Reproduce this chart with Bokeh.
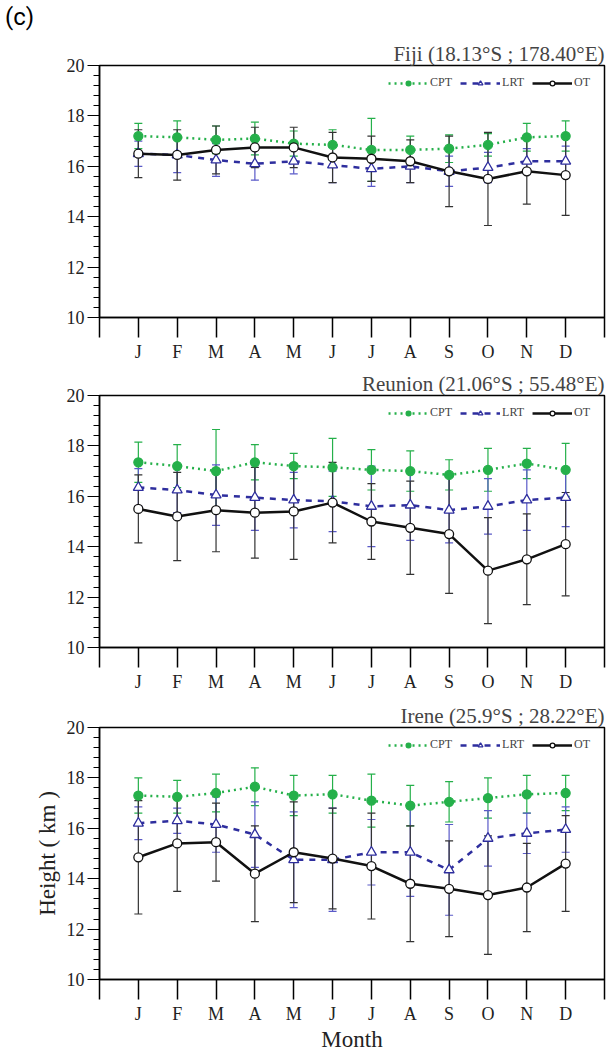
from bokeh.plotting import figure
from bokeh.models import ColumnDataSource, Whisker, TeeHead, Legend, LegendItem, Div, FixedTicker, Range1d
from bokeh.layouts import column
from bokeh.embed import file_html
from bokeh.resources import INLINE

MONTHS = ["J", "F", "M", "A", "M", "J", "J", "A", "S", "O", "N", "D"]

# Fiji (18.13°S ; 178.40°E)
fiji_cpt = [17.2, 17.15, 17.05, 17.1, 16.9, 16.85, 16.65, 16.65, 16.7, 16.85, 17.15, 17.2]
fiji_cpt_sd = [0.5, 0.65, 0.55, 0.65, 0.5, 0.6, 1.25, 0.55, 0.55, 0.45, 0.55, 0.6]
fiji_lrt = [16.5, 16.45, 16.25, 16.1, 16.2, 16.05, 15.9, 16.0, 15.8, 15.95, 16.2, 16.2]
fiji_lrt_sd = [0.5, 0.7, 0.65, 0.65, 0.5, 0.7, 0.7, 0.65, 0.6, 0.6, 0.5, 0.6]
fiji_ot = [16.5, 16.45, 16.65, 16.75, 16.75, 16.35, 16.3, 16.2, 15.8, 15.5, 15.8, 15.65]
fiji_ot_sd = [0.95, 1.0, 0.95, 0.8, 0.8, 1.0, 0.9, 0.85, 1.4, 1.85, 1.3, 1.6]

# Reunion (21.06°S ; 55.48°E)
reun_cpt = [17.35, 17.2, 17.0, 17.35, 17.2, 17.15, 17.05, 17.0, 16.85, 17.05, 17.3, 17.05]
reun_cpt_sd = [0.8, 0.85, 1.65, 0.7, 0.5, 1.15, 0.8, 0.8, 0.6, 0.85, 0.6, 1.05]
reun_lrt = [16.35, 16.25, 16.05, 15.95, 15.85, 15.8, 15.6, 15.65, 15.45, 15.6, 15.85, 15.95]
reun_lrt_sd = [0.75, 0.9, 1.2, 1.3, 1.1, 1.2, 1.6, 1.4, 1.3, 1.1, 1.2, 1.15]
reun_ot = [15.5, 15.2, 15.45, 15.35, 15.4, 15.75, 15.0, 14.75, 14.5, 13.05, 13.5, 14.1]
reun_ot_sd = [1.35, 1.75, 1.65, 1.8, 1.9, 1.6, 1.5, 1.85, 2.35, 2.1, 1.8, 2.05]

# Irene (25.9°S ; 28.22°E)
iren_cpt = [17.3, 17.25, 17.4, 17.65, 17.3, 17.35, 17.1, 16.9, 17.05, 17.2, 17.35, 17.4]
iren_cpt_sd = [0.7, 0.65, 0.75, 0.75, 0.8, 0.75, 1.05, 0.8, 0.8, 0.8, 0.75, 0.7]
iren_lrt = [16.2, 16.3, 16.15, 15.75, 14.75, 14.75, 15.05, 15.05, 14.35, 15.6, 15.8, 15.95]
iren_lrt_sd = [0.65, 0.5, 1.1, 1.3, 1.9, 2.05, 1.3, 1.75, 1.8, 1.1, 0.8, 0.9]
iren_ot = [14.85, 15.4, 15.45, 14.2, 15.05, 14.8, 14.5, 13.8, 13.6, 13.35, 13.65, 14.6]
iren_ot_sd = [2.25, 1.9, 1.55, 1.9, 2.0, 2.0, 2.1, 2.3, 1.9, 2.35, 1.75, 1.9]

SERIF = "Liberation Serif"
GREEN = "#25b04a"
BLUE = "#2e2e9e"
BLUE_ERR = "#5a5ac8"
BLACK = "#111111"
ERR_BLACK = "#333333"


def panel(title, cpt, cpt_sd, lrt, lrt_sd, ot, ot_sd, top, bottom, last=False):
    x = list(range(1, 13))
    p = figure(frame_width=505, frame_height=252, min_border_left=99,
               min_border_right=2, min_border_top=top, min_border_bottom=bottom,
               x_range=Range1d(0, 13), y_range=Range1d(10, 20),
               output_backend="svg", toolbar_location=None,
               title=title)
    p.title.align = "right"
    p.title.text_font = SERIF
    p.title.text_font_size = "21px"
    p.title.text_font_style = "normal"
    p.title.standoff = 0
    p.xgrid.visible = False
    p.ygrid.visible = False
    p.outline_line_color = "black"
    p.outline_line_width = 1.5

    p.xaxis.ticker = FixedTicker(ticks=list(range(0, 14)))
    labels = {0: "", 13: ""}
    for i, m in enumerate(MONTHS):
        labels[i + 1] = m
    p.xaxis.major_label_overrides = labels
    p.xaxis.major_tick_in = 0
    p.xaxis.major_tick_out = 20
    p.xaxis.minor_tick_line_color = None
    p.xaxis.major_tick_line_width = 1.5
    p.xaxis.major_label_text_font = SERIF
    p.xaxis.major_label_text_font_size = "18px"
    p.xaxis.major_label_standoff = 4

    p.yaxis.ticker = FixedTicker(ticks=[10, 12, 14, 16, 18, 20],
                                 minor_ticks=[10 + 0.4 * i for i in range(26)])
    p.yaxis.major_tick_in = 0
    p.yaxis.major_tick_out = 12
    p.yaxis.minor_tick_in = 0
    p.yaxis.minor_tick_out = 6
    p.yaxis.major_label_text_font = SERIF
    p.yaxis.major_label_text_font_size = "18px"
    p.yaxis.major_label_standoff = 3
    for ax in (p.xaxis[0], p.yaxis[0]):
        ax.axis_line_width = 1.5
        ax.major_label_text_color = "#222222"

    if last:
        p.xaxis.axis_label = "Month"
        p.yaxis.axis_label = "Height ( km )"
        for ax in (p.xaxis[0], p.yaxis[0]):
            ax.axis_label_text_font = SERIF
            ax.axis_label_text_font_size = "23px"
            ax.axis_label_text_font_style = "normal"
            ax.axis_label_text_color = "#222222"
        p.xaxis.axis_label_standoff = 0
        p.yaxis.axis_label_standoff = 4

    items = []
    series = [
        ("CPT", cpt, cpt_sd, GREEN, GREEN, "dotted", "circle", GREEN),
        ("LRT", lrt, lrt_sd, BLUE, BLUE_ERR, "dashed", "triangle", "white"),
        ("OT", ot, ot_sd, BLACK, ERR_BLACK, "solid", "circle", "white"),
    ]
    sources = []
    for name, v, sd, col, ecol, dash, marker, fill in series:
        src = ColumnDataSource(data=dict(
            x=x, y=v,
            lo=[a - b for a, b in zip(v, sd)],
            hi=[a + b for a, b in zip(v, sd)]))
        sources.append(src)
        p.add_layout(Whisker(source=src, base="x", upper="hi", lower="lo",
                             line_color=ecol, line_width=1.2,
                             upper_head=TeeHead(size=8, line_color=ecol, line_width=1.2),
                             lower_head=TeeHead(size=8, line_color=ecol, line_width=1.2)))
    for (name, v, sd, col, ecol, dash, marker, fill), src in zip(series, sources):
        ln = p.line("x", "y", source=src, line_color=col, line_dash=dash, line_width=2.5)
        mk = p.scatter("x", "y", source=src, marker=marker, size=10 if marker == "triangle" else 9,
                       line_color=col, fill_color=fill, line_width=1.3)
        items.append(LegendItem(label=name, renderers=[ln, mk]))

    leg = Legend(items=items, orientation="horizontal", location="top_right",
                 border_line_color=None, background_fill_alpha=0,
                 label_text_font=SERIF, label_text_font_size="12px",
                 glyph_width=40, glyph_height=12, spacing=8, label_standoff=2,
                 padding=2, margin=10)
    p.add_layout(leg)
    return p


head = Div(text="(c)", width=100, height=20,
           styles={"font-family": "Roboto", "font-size": "24px", "line-height": "24px"})
f1 = panel("Fiji (18.13°S ; 178.40°E)", fiji_cpt, fiji_cpt_sd, fiji_lrt, fiji_lrt_sd,
           fiji_ot, fiji_ot_sd, 35, 50)
f2 = panel("Reunion (21.06°S ; 55.48°E)", reun_cpt, reun_cpt_sd, reun_lrt, reun_lrt_sd,
           reun_ot, reun_ot_sd, 28, 50)
f3 = panel("Irene (25.9°S ; 28.22°E)", iren_cpt, iren_cpt_sd, iren_lrt, iren_lrt_sd,
           iren_ot, iren_ot_sd, 30, 62, last=True)

layout = column(head, f1, f2, f3, spacing=0)
open("out.html", "w").write(file_html(layout, INLINE))
